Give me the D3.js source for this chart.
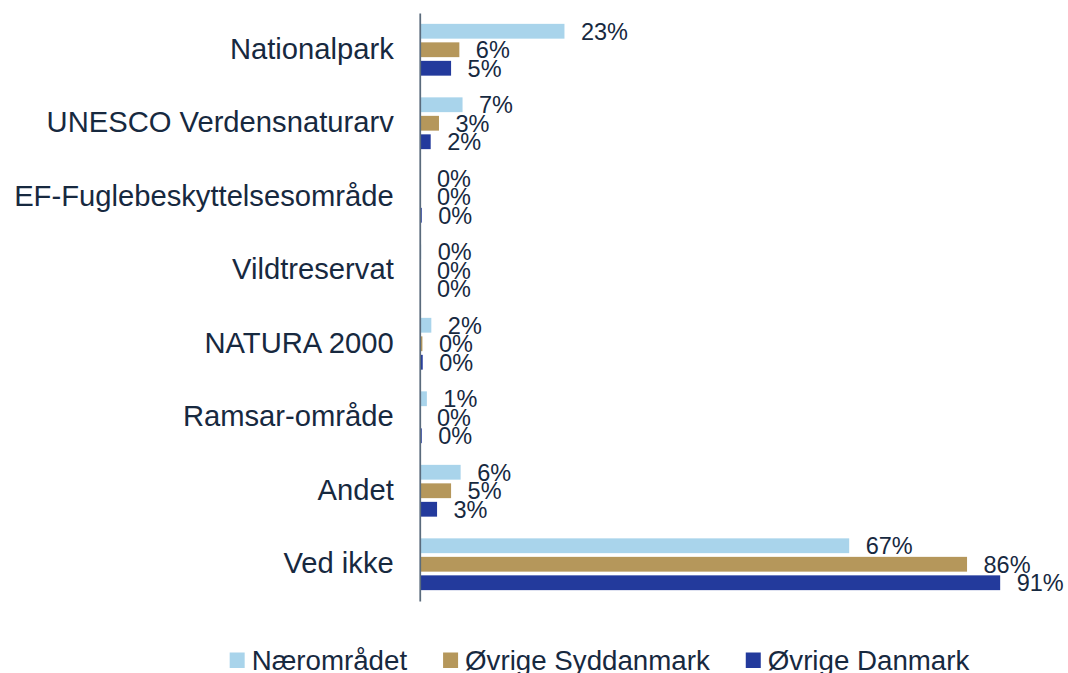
<!DOCTYPE html>
<html>
<head>
<meta charset="utf-8">
<script src="https://cdn.jsdelivr.net/npm/d3@7"></script>
<style>
  html, body { margin: 0; padding: 0; background: #ffffff; }
  svg { display: block; }
  text { font-family: "Liberation Sans", Arial, Helvetica, sans-serif; fill: #17293f; }
</style>
</head>
<body>
<svg id="chart" width="1068" height="673"></svg>
<script>
const categories = ["Nationalpark", "UNESCO Verdensnaturarv", "EF-Fuglebeskyttelsesområde", "Vildtreservat", "NATURA 2000", "Ramsar-område", "Andet", "Ved ikke"];
const seriesNames = ["Nærområdet", "Øvrige Syddanmark", "Øvrige Danmark"];
const naeromraadet = [22.6, 6.6, 0, 0.1, 1.7, 1.0, 6.3, 67.3];
const oevrigeSyddanmark = [6.1, 2.9, 0, 0, 0.3, 0, 4.8, 85.8];
const oevrigeDanmark = [4.8, 1.6, 0.2, 0, 0.35, 0.2, 2.6, 91.0];
const seriesColors = ["#a9d4eb", "#b5975b", "#233a9c"];

const seriesValues = [naeromraadet, oevrigeSyddanmark, oevrigeDanmark];
const svg = d3.select("#chart");

const x = d3.scaleLinear().domain([0, 100]).range([420.5, 1057.5]);
const y0 = d3.scaleBand().domain(categories).range([13, 601]).paddingInner(0.245).paddingOuter(0.1225);
const y1 = d3.scaleBand().domain(seriesNames).range([0, y0.bandwidth()]).paddingInner(0.2).paddingOuter(0.1);

const fmt = v => d3.format(".0f")(v) + "%";

const groups = svg.append("g").selectAll("g")
  .data(categories)
  .join("g")
  .attr("transform", d => `translate(0,${y0(d)})`);

groups.each(function(cat, ci) {
  const g = d3.select(this);
  seriesNames.forEach((s, si) => {
    const v = seriesValues[si][ci];
    g.append("rect")
      .attr("x", x(0))
      .attr("y", y1(s))
      .attr("width", Math.max(0, x(v) - x(0)))
      .attr("height", y1.bandwidth())
      .attr("fill", seriesColors[si]);
  });
  seriesNames.forEach((s, si) => {
    const v = seriesValues[si][ci];
    g.append("text")
      .attr("x", x(v) + 16.5)
      .attr("y", y1(s) + y1.bandwidth() / 2 + 8.3)
      .attr("font-size", "23.5px")
      .text(fmt(v));
  });
});

// Category axis
const axis = svg.append("g")
  .attr("transform", `translate(${x(0) - 0.75},0)`)
  .call(d3.axisLeft(y0).tickSize(0).tickPadding(26));
axis.select(".domain").attr("stroke", "#5a6b7c").attr("stroke-width", 1.75);
axis.selectAll(".tick text")
  .attr("font-size", "29.2px")
  .attr("font-family", "'Liberation Sans', Arial, sans-serif")
  .attr("fill", "#17293f")
  .attr("dy", "0.31em");

// Legend
const legend = svg.append("g");
let lx = 0;
seriesNames.forEach((s, i) => {
  const item = legend.append("g").attr("transform", `translate(${lx},0)`);
  item.append("rect").attr("x", 0).attr("y", 652.5).attr("width", 15).attr("height", 15.5).attr("fill", seriesColors[i]);
  const t = item.append("text").attr("x", 22).attr("y", 669.5).attr("font-size", "27.7px").text(s);
  const w = 22 + t.node().getComputedTextLength();
  lx += w + 36;
});
const totalW = lx - 36;
legend.attr("transform", `translate(${599.5 - totalW / 2},0)`);
</script>
</body>
</html>
